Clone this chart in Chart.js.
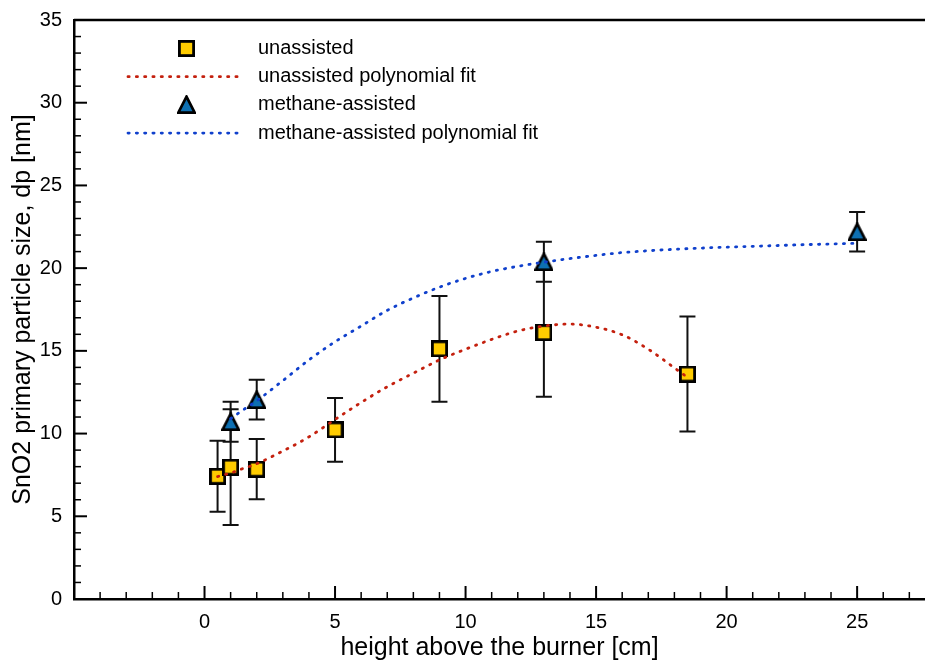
<!DOCTYPE html>
<html>
<head>
<meta charset="utf-8">
<script src="https://cdn.jsdelivr.net/npm/chart.js@4.4.1/dist/chart.umd.min.js"></script>
<style>
  html, body { margin: 0; padding: 0; background: #fff; }
  canvas { display: block; }
</style>
</head>
<body>
<canvas id="chart" width="925" height="662"></canvas>
<script>
// Measured particle sizes (nm) versus height above the burner (cm)
const unassistedX   = [0.5, 1, 2, 5, 9, 13, 18.5];
const unassistedY   = [7.42, 7.97, 7.85, 10.22, 15.12, 16.1, 13.6];
const unassistedErr = [2.15, 3.5, 1.82, 1.93, 3.19, 3.87, 3.47];

const methaneX   = [1, 2, 13, 25];
const methaneY   = [10.72, 12.05, 20.39, 22.2];
const methaneErr = [1.21, 1.2, 1.21, 1.2];

// Polynomial fit curves, sampled along x
const unassistedFitX = [0.5, 1, 1.5, 2, 3, 4, 5, 6, 7, 8, 9, 10, 11, 12, 13, 14, 15, 16, 17, 18, 18.5];
const unassistedFitY = [7.4, 7.62, 7.9, 8.18, 8.94, 9.8, 10.85, 11.88, 12.83, 13.65, 14.45, 15.1, 15.69, 16.2, 16.5, 16.62, 16.43, 15.97, 15.1, 13.97, 13.4];

const methaneFitX = [1, 1.5, 2, 3, 4, 5, 6, 7, 8, 9, 10, 11, 12, 13, 14, 15, 16, 17, 18, 19, 20, 21, 22, 23, 24, 25];
const methaneFitY = [10.9, 11.45, 11.98, 13.2, 14.45, 15.55, 16.5, 17.45, 18.2, 18.85, 19.38, 19.8, 20.11, 20.36, 20.58, 20.77, 20.94, 21.05, 21.14, 21.21, 21.27, 21.32, 21.37, 21.42, 21.46, 21.5];

// Axis tick labels
const xTickLabels = [0, 5, 10, 15, 20, 25];
const yTickLabels = [0, 5, 10, 15, 20, 25, 30, 35];

const FONT = "'Liberation Sans', Arial, Helvetica, sans-serif";
const GOLD = '#ffcc00';
const STEEL = '#0e70b2';
const RED = '#c4200e';
const BLUE = '#1040cc';

function toPoints(xs, ys) {
  return xs.map((x, i) => ({ x: x, y: ys[i] }));
}

// Marker sprites: square and an isosceles triangle centred on its bounding box
function makeSquare() {
  const c = document.createElement('canvas');
  c.width = 17; c.height = 17;
  const g = c.getContext('2d');
  g.fillStyle = '#000';
  g.fillRect(0, 0, 17, 17);
  g.fillStyle = GOLD;
  g.fillRect(2.8, 2.8, 11.4, 11.4);
  return c;
}
function makeTriangle() {
  const c = document.createElement('canvas');
  c.width = 19; c.height = 19;
  const g = c.getContext('2d');
  g.beginPath();
  g.moveTo(9.5, 1.7);
  g.lineTo(17.7, 17.6);
  g.lineTo(1.3, 17.6);
  g.closePath();
  g.fillStyle = STEEL;
  g.fill();
  g.lineWidth = 2.7;
  g.lineJoin = 'miter';
  g.strokeStyle = '#000';
  g.stroke();
  return c;
}
const squareImg = makeSquare();
const triangleImg = makeTriangle();

const DOTS = [1.2, 7.1];

// Inward ticks, top border and error bars, drawn under the data
const framePlugin = {
  id: 'frame',
  beforeDatasetsDraw(chart) {
    const { ctx, chartArea: a, scales } = chart;
    const xs = scales.x, ys = scales.y;
    ctx.save();
    ctx.strokeStyle = '#000';
    ctx.lineCap = 'butt';

    for (let v = Math.ceil(xs.min); v <= Math.floor(xs.max); v++) {
      if (v === xs.min) continue;
      const major = v % 5 === 0;
      const px = xs.getPixelForValue(v);
      ctx.lineWidth = major ? 2 : 1.5;
      ctx.beginPath();
      ctx.moveTo(px, a.bottom);
      ctx.lineTo(px, a.bottom - (major ? 13 : 7));
      ctx.stroke();
    }
    for (let v = Math.ceil(ys.min); v <= Math.floor(ys.max); v++) {
      if (v === ys.min || v === ys.max) continue;
      const major = v % 5 === 0;
      const py = ys.getPixelForValue(v);
      ctx.lineWidth = major ? 2 : 1.5;
      ctx.beginPath();
      ctx.moveTo(a.left, py);
      ctx.lineTo(a.left + (major ? 13 : 7), py);
      ctx.stroke();
    }

    // top border
    ctx.lineWidth = 2.5;
    ctx.beginPath();
    ctx.moveTo(a.left, a.top);
    ctx.lineTo(a.right, a.top);
    ctx.stroke();

    // error bars
    ctx.strokeStyle = '#111';
    ctx.lineWidth = 2;
    chart.data.datasets.forEach((ds) => {
      if (!ds.errorBars) return;
      ds.data.forEach((p, j) => {
        const e = ds.errorBars[j];
        const px = xs.getPixelForValue(p.x);
        const top = ys.getPixelForValue(p.y + e);
        const bot = ys.getPixelForValue(p.y - e);
        ctx.beginPath();
        ctx.moveTo(px, top); ctx.lineTo(px, bot);
        ctx.moveTo(px - 8, top); ctx.lineTo(px + 8, top);
        ctx.moveTo(px - 8, bot); ctx.lineTo(px + 8, bot);
        ctx.stroke();
      });
    });
    ctx.restore();
  }
};

// Legend inside the plot area
const legendPlugin = {
  id: 'insideLegend',
  afterDatasetsDraw(chart) {
    const { ctx, chartArea: a } = chart;
    const rowY0 = a.top + 28.5;
    const rowStep = 28.2;
    const lineX0 = 128, lineX1 = 243, markX = 186.5, textX = 258;
    ctx.save();
    chart.data.datasets.forEach((ds, i) => {
      const yRow = rowY0 + i * rowStep;
      if (ds.showLine) {
        ctx.strokeStyle = ds.borderColor;
        ctx.lineWidth = ds.borderWidth;
        ctx.lineCap = ds.borderCapStyle;
        ctx.setLineDash(ds.borderDash);
        ctx.beginPath();
        ctx.moveTo(lineX0, yRow);
        ctx.lineTo(lineX1, yRow);
        ctx.stroke();
        ctx.setLineDash([]);
      } else {
        const img = ds.pointStyle;
        ctx.drawImage(img, Math.round(markX - img.width / 2), Math.round(yRow - img.height / 2));
      }
      ctx.fillStyle = '#000';
      ctx.font = '20px ' + FONT;
      ctx.textBaseline = 'middle';
      ctx.textAlign = 'left';
      ctx.fillText(ds.label, textX, yRow);
    });
    ctx.restore();
  }
};

new Chart(document.getElementById('chart'), {
  type: 'scatter',
  data: {
    datasets: [
      {
        label: 'unassisted',
        data: toPoints(unassistedX, unassistedY),
        errorBars: unassistedErr,
        pointStyle: squareImg,
        pointRadius: 9,
        showLine: false,
        order: 1
      },
      {
        label: 'unassisted polynomial fit',
        data: toPoints(unassistedFitX, unassistedFitY),
        showLine: true,
        borderColor: RED,
        borderWidth: 2.8,
        borderDash: DOTS,
        borderCapStyle: 'round',
        cubicInterpolationMode: 'monotone',
        pointRadius: 0,
        order: 0
      },
      {
        label: 'methane-assisted',
        data: toPoints(methaneX, methaneY),
        errorBars: methaneErr,
        pointStyle: triangleImg,
        pointRadius: 10,
        showLine: false,
        order: 1
      },
      {
        label: 'methane-assisted polynomial fit',
        data: toPoints(methaneFitX, methaneFitY),
        showLine: true,
        borderColor: BLUE,
        borderWidth: 2.8,
        borderDash: DOTS,
        borderCapStyle: 'round',
        cubicInterpolationMode: 'monotone',
        pointRadius: 0,
        order: 0
      }
    ]
  },
  options: {
    responsive: false,
    animation: false,
    layout: { autoPadding: false, padding: { top: 20, right: 0, bottom: 0, left: 0 } },
    plugins: {
      legend: { display: false },
      tooltip: { enabled: false }
    },
    scales: {
      x: {
        type: 'linear',
        min: -5,
        max: 27.6,
        afterBuildTicks(scale) { scale.ticks = xTickLabels.map(v => ({ value: v })); },
        afterFit(scale) {
          scale.height = 63;
          scale.paddingLeft = 0; scale.paddingRight = 0;
          scale.paddingTop = 0; scale.paddingBottom = 0;
        },
        grid: { display: false, drawTicks: false },
        border: { display: true, color: '#000', width: 2.5 },
        ticks: { color: '#000', padding: 11, font: { family: FONT, size: 20 }, maxRotation: 0 },
        title: {
          display: true,
          text: 'height above the burner [cm]',
          color: '#000',
          font: { family: FONT, size: 25, lineHeight: 1.1 },
          padding: { top: 0, bottom: 0 }
        }
      },
      y: {
        type: 'linear',
        min: 0,
        max: 35,
        afterBuildTicks(scale) { scale.ticks = yTickLabels.map(v => ({ value: v })); },
        afterFit(scale) {
          scale.width = 74;
          scale.paddingLeft = 0; scale.paddingRight = 0;
          scale.paddingTop = 0; scale.paddingBottom = 0;
        },
        grid: { display: false, drawTicks: false },
        border: { display: true, color: '#000', width: 2.5 },
        ticks: { color: '#000', padding: 12, font: { family: FONT, size: 20 } },
        title: {
          display: true,
          text: 'SnO2 primary particle size, dp [nm]',
          color: '#000',
          font: { family: FONT, size: 25 },
          padding: { top: 8, bottom: 0 }
        }
      }
    }
  },
  plugins: [framePlugin, legendPlugin]
});
</script>
</body>
</html>
